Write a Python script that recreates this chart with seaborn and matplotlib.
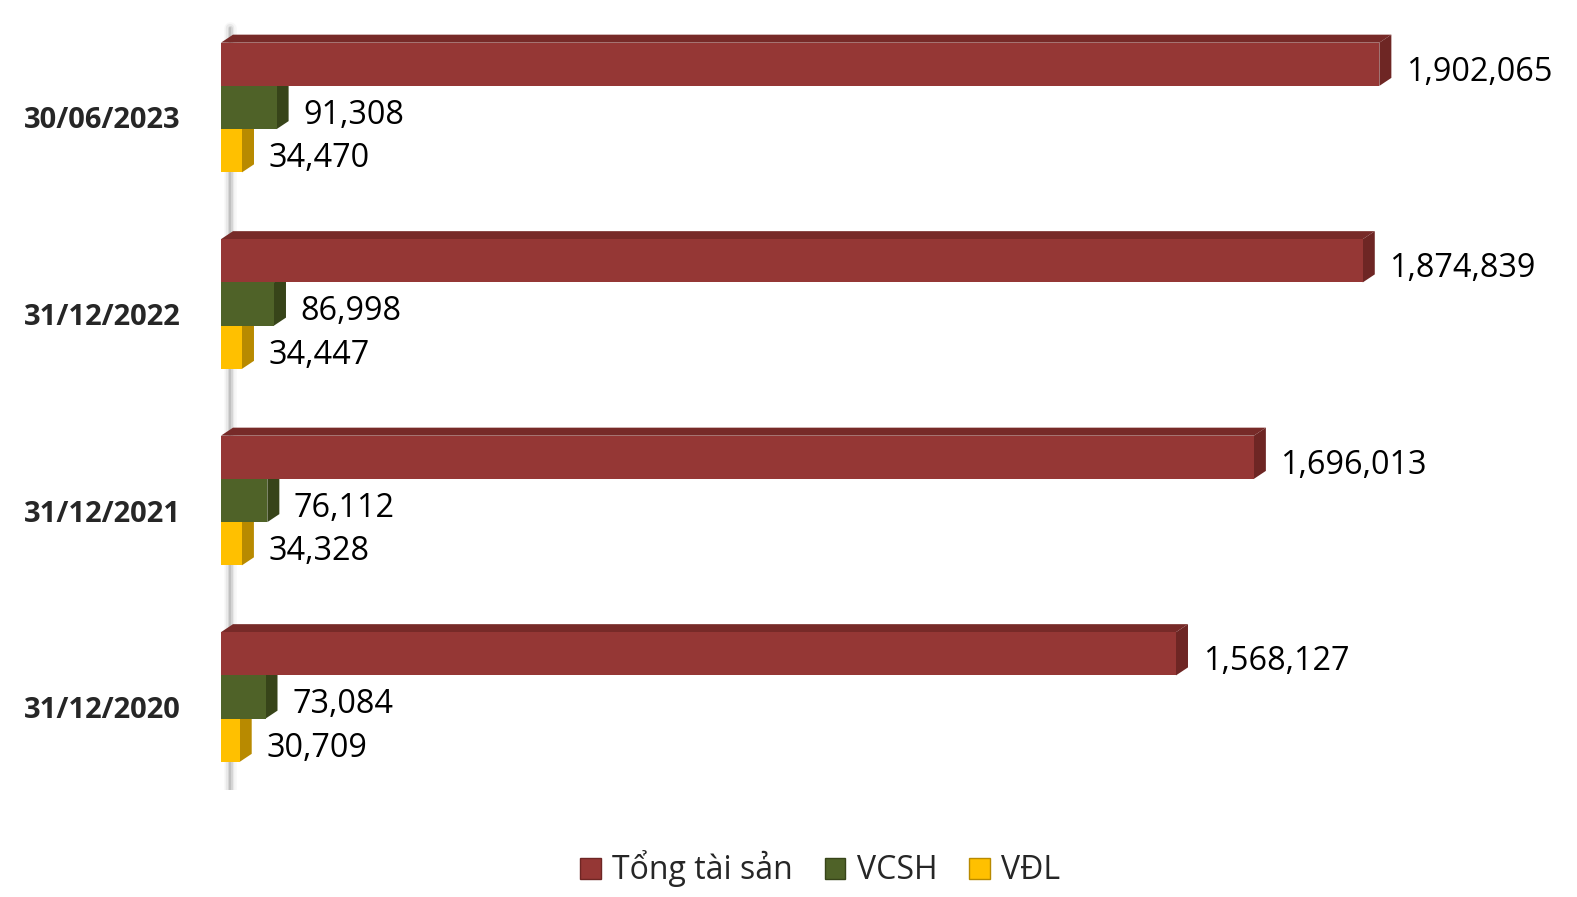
import pandas as pd
import matplotlib
matplotlib.use('Agg')
import matplotlib.pyplot as plt
from matplotlib.patches import Polygon, Patch
import seaborn as sns

# data (units as shown)
dates = ['30/06/2023', '31/12/2022', '31/12/2021', '31/12/2020']
tong_tai_san = [1902065, 1874839, 1696013, 1568127]
vcsh = [91308, 86998, 76112, 73084]
vdl = [34470, 34447, 34328, 30709]
series = ['Tổng tài sản', 'VCSH', 'VĐL']

front = ['#953735', '#4F6228', '#FFC000']
side = ['#6E2624', '#374419', '#B88A00']
top = ['#772A28', '#3F4E1E', '#D9A300']

df = pd.DataFrame({
    'date': dates * 3,
    'value': tong_tai_san + vcsh + vdl,
    'series': [s for s in series for _ in dates],
})

sns.set_theme(style='white')
plt.rcParams['font.family'] = ['Open Sans', 'DejaVu Sans']

fig = plt.figure(figsize=(15.77, 8.97), dpi=100)
ax = fig.add_axes([221 / 1577, 1 - 790 / 897, 1 - 221 / 1577, 770 / 897])

sns.barplot(data=df, y='date', x='value', hue='series', hue_order=series,
            order=dates, palette=front, orient='h', width=0.66,
            legend=False, ax=ax, saturation=1)

px_per_unit = 0.000609   # pixels per value unit
px_per_cat = 196.5       # pixels per category step
xmax = 1356 / px_per_unit
ax.set_xlim(0, xmax)
ytop = -87.5 / px_per_cat
ax.set_ylim(ytop + 770 / px_per_cat, ytop)

# 3D depth, in data units (about 12 px right, 8 px up)
dx = 12 / px_per_unit
dy = 8 / px_per_cat

# faint wall edge behind the bars (soft, blurred look)
for lw, a in [(9, 0.08), (6, 0.15), (3.5, 0.25), (1.5, 0.35)]:
    ax.axvline(9 / px_per_unit, ymin=0.0, ymax=0.99, color='#9A9A9A', lw=lw, alpha=a, zorder=0)

zbase = [6, 4, 2]
for k, cont in enumerate(ax.containers):
    for p in cont.patches:
        p.set_zorder(zbase[k])
        p.set_edgecolor('none')
        x1 = p.get_width()
        yt = p.get_y()
        yb = yt + p.get_height()
        ax.add_patch(Polygon([(0, yt), (dx, yt - dy), (x1 + dx, yt - dy), (x1, yt)],
                             closed=True, facecolor=top[k], edgecolor='none',
                             zorder=zbase[k] - 0.5))
        ax.add_patch(Polygon([(x1, yt), (x1 + dx, yt - dy), (x1 + dx, yb - dy), (x1, yb)],
                             closed=True, facecolor=side[k], edgecolor='none',
                             zorder=zbase[k] - 0.5))
        ax.text(x1 + dx + 24000, (yt + yb) / 2 + 0.04, f'{int(x1):,}',
                ha='left', va='center', fontsize=23.3, color='black', zorder=10)

for s in ax.spines.values():
    s.set_visible(False)
ax.set_xticks([])
ax.set_xlabel('')
ax.set_ylabel('')
# category labels sit a little below the middle bar
ax.set_yticks([i + 10 / px_per_cat for i in range(len(dates))])
ax.set_yticklabels(dates, fontweight='bold', fontsize=21)
ax.tick_params(axis='y', length=0, pad=29)

handles = [Patch(facecolor=front[k], edgecolor=side[k], label=series[k]) for k in range(3)]
fig.legend(handles=handles, loc='center', bbox_to_anchor=(0.52, 1 - 869 / 897),
           ncol=3, frameon=False, fontsize=23, handlelength=0.65, handleheight=0.65,
           handletextpad=0.35, columnspacing=1.0)

fig.savefig('out.png', dpi=100)
